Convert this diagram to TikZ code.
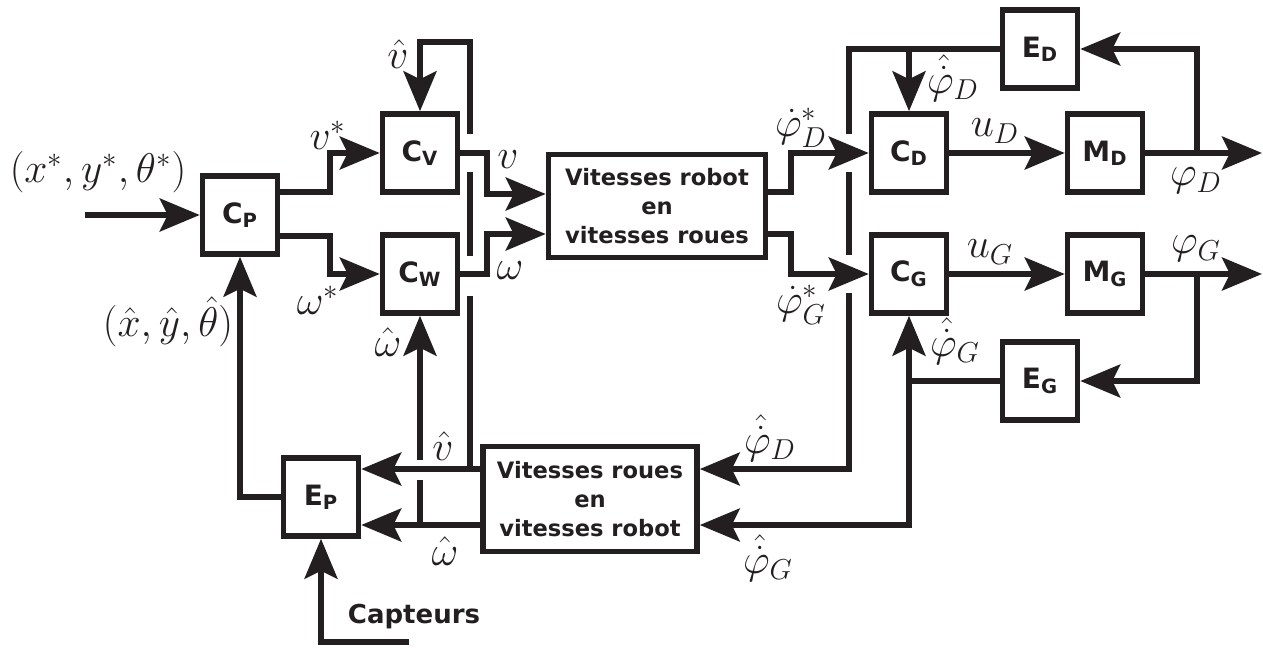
\documentclass[tikz,border=0pt]{standalone}
\usepackage{amsmath}
\usepackage{fontspec}
\newfontfamily\boxfont{DejaVu Sans}
\usetikzlibrary{arrows.meta}
\definecolor{ink}{RGB}{35,31,32}

\begin{document}
\begin{tikzpicture}[x=0.5pt,y=-0.5pt,line width=2.7pt,color=ink,
  blk/.style={draw,line width=2.8pt,minimum width=37.5pt,minimum height=39pt,inner sep=0pt,
    font=\boxfont\bfseries\fontsize{14}{16}\selectfont},
  big/.style={draw,line width=2.8pt,align=center,inner sep=0pt,
    font=\boxfont\bfseries\fontsize{11.3}{14.5}\selectfont},
  lbl/.style={inner sep=0pt,font=\fontsize{20.74}{25}\selectfont},
  fl/.style={-{Stealth[length=20pt,width=16.5pt,inset=4pt]}}]
\useasboundingbox (0,0) rectangle (1263,648);
\node[blk] (CP) at (240,215) {C\textsubscript{P}};
\node[blk] (CV) at (420,153) {C\textsubscript{V}};
\node[blk] (CW) at (420,274) {C\textsubscript{W}};
\node[big,minimum width=108.5pt,minimum height=51.5pt] (VR) at (657,206) {Vitesses robot\\en\\vitesses roues};
\node[blk] (CD) at (909,153) {C\textsubscript{D}};
\node[blk] (CG) at (909,274) {C\textsubscript{G}};
\node[blk] (MD) at (1105,153) {M\textsubscript{D}};
\node[blk] (MG) at (1105,274) {M\textsubscript{G}};
\node[blk] (ED) at (1040,49) {E\textsubscript{D}};
\node[blk] (EG) at (1040,381) {E\textsubscript{G}};
\node[blk] (EP) at (321,497) {E\textsubscript{P}};
\node[big,minimum width=107pt,minimum height=52.5pt] (RV) at (590,499) {Vitesses roues\\en\\vitesses robot};
\node[font=\boxfont\bfseries\fontsize{13}{15}\selectfont] (capt) at (414,617) {Capteurs};
\coordinate (xin) at (85,215);
\coordinate (cin) at (409,642);

\node[lbl] (xref) at (98,172) {$(x^*,y^*,\theta^*)$};
\node[lbl] (vref) at (328,135) {$v^*$};
\node[lbl] (wref) at (318,300) {$\omega^*$};
\node[lbl] (vhat1) at (398,54) {$\hat{v}$};
\node[lbl] (vout) at (508,160) {$v$};
\node[lbl] (wout) at (510,271) {$\omega$};
\node[lbl] (xhat) at (168,322) {$(\hat{x},\hat{y},\hat{\theta})$};
\node[lbl] (what1) at (388,342) {$\hat{\omega}$};
\node[lbl] (vhat2) at (443,446) {$\hat{v}$};
\node[lbl] (what2) at (445,551) {$\hat{\omega}$};
\node[lbl] (pdref) at (801,128) {$\dot{\varphi}^*_D$};
\node[lbl] (pdhat1) at (953,78) {$\hat{\dot{\varphi}}_D$};
\node[lbl] (ud) at (995,131) {$u_D$};
\node[lbl] (pd) at (1196,181) {$\varphi_D$};
\node[lbl] (ug) at (990,252) {$u_G$};
\node[lbl] (pg) at (1196,249) {$\varphi_G$};
\node[lbl] (pgref) at (801,305) {$\dot{\varphi}^*_G$};
\node[lbl] (pghat1) at (955,341) {$\hat{\dot{\varphi}}_G$};
\node[lbl] (pdhat2) at (770,438) {$\hat{\dot{\varphi}}_D$};
\node[lbl] (pghat2) at (768,558) {$\hat{\dot{\varphi}}_G$};

\draw[fl] (xin) -- (CP.west);
\draw[fl] (CP.east |- 0,192) -- (330,192) |- (CV.west);
\draw[fl] (CP.east |- 0,236) -- (330,236) |- (CW.west);
\draw[fl] (CV.east) -- (487,153) |- (VR.west |- 0,194);
\draw[fl] (CW.east) -- (487,274) |- (VR.west |- 0,234);
\draw[fl] (VR.east |- 0,192) -- (791,192) |- (CD.west);
\draw[fl] (VR.east |- 0,234) -- (791,234) |- (CG.west);
\draw[fl] (CD.east) -- (MD.west);
\draw[fl] (CG.east) -- (MG.west);
\draw[fl] (MD.east) -- (1262,153);
\draw[fl] (MG.east) -- (1262,274);
\draw[fl] (1197,153) |- (ED.east);
\draw[fl] (1197,274) |- (EG.east);
\draw (ED.west) -| (849,134);
\draw (849,172) -- (849,255);
\draw[fl] (849,293) |- (RV.east |- 0,469);
\draw[fl] (909,49) -- (CD.north);
\draw (EG.west) -- (909,381);
\draw[fl] (909,525) -- (CG.south);
\draw[fl] (909,381) |- (RV.east |- 0,525);
\draw[fl] (RV.west |- 0,469) -- (EP.east |- 0,469);
\draw[fl] (RV.west |- 0,525) -- (EP.east |- 0,525);
\draw (470,469) -- (470,296);
\draw (470,256) -- (470,172);
\draw[fl] (470,134) |- (CV.north |- 0,42) -- (CV.north);
\draw (420,525) -- (420,480);
\draw[fl] (420,460) -- (CW.south);
\draw[fl] (EP.west) -| (CP.south);
\draw[fl] (cin) -| (EP.south);
\end{tikzpicture}
\end{document}
